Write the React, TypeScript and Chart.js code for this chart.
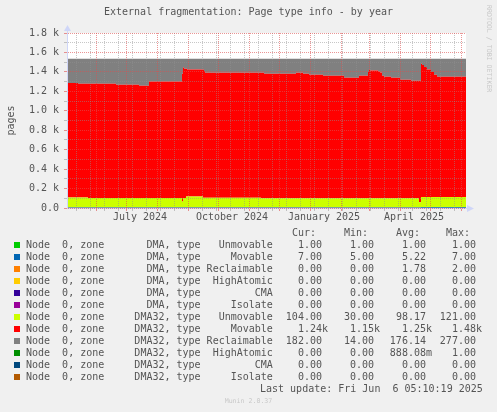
import { useEffect, useRef } from "react";
import { Chart, registerables } from "chart.js";

Chart.register(...registerables);

// x = days since 3 May 2024 (plot runs to 6 Jun 2025)
const days = [0, 11, 21, 49, 72, 82, 115, 116, 117, 119, 120, 136, 137, 138, 194, 197, 229, 236, 242, 256, 277, 292, 301, 302, 303, 311, 313, 315, 317, 324, 333, 344, 352, 354, 355, 357, 360, 364, 367, 370, 387, 399];

const dmaUnmovable = [1, 1, 1, 1, 1, 1, 1, 1, 1, 1, 1, 1, 1, 1, 1, 1, 1, 1, 1, 1, 1, 1, 1, 1, 1, 1, 1, 1, 1, 1, 1, 1, 1, 1, 1, 1, 1, 1, 1, 1, 1, 1];
const dmaMovable = [5, 5, 5, 5, 5, 5, 5, 5, 5, 5, 5, 5, 5, 5, 5, 5, 5, 5, 5, 5, 5, 5, 5, 5, 5, 5, 5, 5, 5, 5, 5, 5, 5, 5, 7, 7, 7, 7, 7, 7, 7, 7];
const dmaReclaimable = [2, 2, 2, 2, 2, 2, 2, 2, 2, 2, 2, 2, 2, 2, 2, 2, 2, 2, 2, 2, 2, 2, 2, 2, 2, 2, 2, 2, 2, 2, 2, 2, 2, 2, 0, 0, 0, 0, 0, 0, 0, 0];
const zeros = [0, 0, 0, 0, 0, 0, 0, 0, 0, 0, 0, 0, 0, 0, 0, 0, 0, 0, 0, 0, 0, 0, 0, 0, 0, 0, 0, 0, 0, 0, 0, 0, 0, 0, 0, 0, 0, 0, 0, 0, 0, 0];
const dma32Unmovable = [84, 101, 101, 95, 95, 95, 95, 60, 95, 95, 110, 110, 98, 98, 98, 92, 92, 92, 92, 92, 92, 92, 92, 92, 92, 92, 92, 92, 92, 92, 92, 92, 92, 50, 104, 104, 104, 104, 104, 104, 104, 104];
const dma32Movable = [1195, 1178, 1168, 1174, 1164, 1154, 1197, 1312, 1342, 1329, 1314, 1306, 1318, 1302, 1284, 1290, 1280, 1290, 1280, 1270, 1260, 1239, 1260, 1300, 1321, 1315, 1305, 1295, 1260, 1249, 1239, 1218, 1208, 1250, 1371, 1358, 1338, 1313, 1288, 1258, 1237, 1237];
const dma32Reclaimable = [247, 247, 257, 257, 267, 277, 234, 154, 89, 102, 102, 110, 110, 126, 144, 144, 154, 144, 154, 164, 174, 195, 174, 134, 113, 119, 129, 139, 174, 185, 195, 216, 226, 226, 52, 65, 85, 110, 135, 165, 186, 186];
const dma32HighAtomic = [1, 1, 1, 1, 1, 1, 1, 1, 1, 1, 1, 1, 1, 1, 1, 1, 1, 1, 1, 1, 1, 1, 1, 1, 1, 1, 1, 1, 1, 1, 1, 1, 1, 1, 0, 0, 0, 0, 0, 0, 0, 0];

const zones = ["DMA", "DMA", "DMA", "DMA", "DMA", "DMA", "DMA32", "DMA32", "DMA32", "DMA32", "DMA32", "DMA32"];
const types = ["Unmovable", "Movable", "Reclaimable", "HighAtomic", "CMA", "Isolate", "Unmovable", "Movable", "Reclaimable", "HighAtomic", "CMA", "Isolate"];
const colors = ["#00CC00", "#0066B3", "#FF8000", "#FFCC00", "#330099", "#990099", "#CCFF00", "#FF0000", "#808080", "#008F00", "#00487D", "#B35A00"];
const series = [dmaUnmovable, dmaMovable, dmaReclaimable, zeros, zeros, zeros, dma32Unmovable, dma32Movable, dma32Reclaimable, dma32HighAtomic, zeros, zeros];

const curValues = ["1.00 ", "7.00 ", "0.00 ", "0.00 ", "0.00 ", "0.00 ", "104.00 ", "1.24k", "182.00 ", "0.00 ", "0.00 ", "0.00 "];
const minValues = ["1.00 ", "5.00 ", "0.00 ", "0.00 ", "0.00 ", "0.00 ", "30.00 ", "1.15k", "14.00 ", "0.00 ", "0.00 ", "0.00 "];
const avgValues = ["1.00 ", "5.22 ", "1.78 ", "0.00 ", "0.00 ", "0.00 ", "98.17 ", "1.25k", "176.14 ", "888.08m", "0.00 ", "0.00 "];
const maxValues = ["1.00 ", "7.00 ", "2.00 ", "0.00 ", "0.00 ", "0.00 ", "121.00 ", "1.48k", "277.00 ", "1.00 ", "0.00 ", "0.00 "];

const monthStarts = [29, 59, 90, 121, 151, 182, 212, 243, 274, 302, 333, 363, 394];
const minorDays = [9, 23, 37, 51, 65, 79, 93, 107, 135, 149, 163, 177, 191, 205, 219, 233, 247, 261, 275, 289, 303, 317, 331, 345, 359, 373, 387];
const labelDays = [73, 165, 257, 347];
const xLabels = ["July 2024", "October 2024", "January 2025", "April 2025"];

const yMajor = [0, 200, 400, 600, 800, 1000, 1200, 1400, 1600, 1800];
const yMinor = [100, 300, 500, 700, 900, 1100, 1300, 1500, 1700];
const yLabels = ["0.0", "0.2 k", "0.4 k", "0.6 k", "0.8 k", "1.0 k", "1.2 k", "1.4 k", "1.6 k", "1.8 k"];

const MONO = "'DejaVu Sans Mono', monospace";
const FONT_COLOR = "#555555";
const AXIS_COLOR = "#CFD6F8";
const MAJOR_GRID = "rgba(222, 79, 79, 0.6)";
const MINOR_GRID = "rgba(143, 143, 143, 0.5)";

const canvasBg = {
  id: "canvasBg",
  beforeDraw(chart: Chart) {
    const { ctx, chartArea } = chart;
    ctx.save();
    ctx.fillStyle = "#FFFFFF";
    ctx.fillRect(chartArea.left, chartArea.top, chartArea.right - chartArea.left, chartArea.bottom - chartArea.top);
    ctx.restore();
  }
};

const axisArrows = {
  id: "axisArrows",
  afterDraw(chart: Chart) {
    const { ctx, chartArea } = chart;
    const l = Math.round(chartArea.left);
    const b = Math.round(chartArea.bottom);
    const t = Math.round(chartArea.top);
    const r = Math.round(chartArea.right);
    ctx.save();
    ctx.fillStyle = AXIS_COLOR;
    ctx.fillRect(l, t - 3, 1, 4);
    ctx.beginPath();
    ctx.moveTo(l - 3, t - 2);
    ctx.lineTo(l + 4, t - 2);
    ctx.lineTo(l + 0.5, t - 8);
    ctx.closePath();
    ctx.fill();
    ctx.fillRect(r - 1, b, 3, 1);
    ctx.beginPath();
    ctx.moveTo(r + 1, b - 3);
    ctx.lineTo(r + 1, b + 4);
    ctx.lineTo(r + 8, b + 0.5);
    ctx.closePath();
    ctx.fill();
    ctx.restore();
  }
};

function xGridColor(v: number) {
  if (monthStarts.includes(v)) return MAJOR_GRID;
  if (minorDays.includes(v)) return MINOR_GRID;
  return "transparent";
}

function yGridColor(v: number) {
  return yMajor.includes(v) ? MAJOR_GRID : MINOR_GRID;
}

function App() {
  const canvasRef = useRef<HTMLCanvasElement | null>(null);

  useEffect(() => {
    document.body.style.margin = "0";
    const canvas = canvasRef.current;
    if (!canvas) {
      return;
    }

    const font = { family: MONO, size: 10 };

    const chart = new Chart(canvas, {
      type: "line",
      data: {
        datasets: series.map((values, i) => ({
          label: `${zones[i]} ${types[i]}`,
          data: days.map((d, j) => ({ x: d, y: values[j] })),
          backgroundColor: colors[i],
          borderWidth: 0,
          pointRadius: 0,
          stepped: "after" as const,
          fill: i === 0 ? "origin" : "-1"
        }))
      },
      options: {
        animation: false,
        responsive: false,
        devicePixelRatio: 1,
        events: [],
        layout: { padding: { top: 33, right: 31, bottom: 184, left: 0 } },
        plugins: {
          legend: { display: false },
          tooltip: { enabled: false }
        },
        scales: {
          x: {
            type: "linear",
            min: 0,
            max: 399,
            afterBuildTicks: (scale) => {
              const vals = [...monthStarts, ...minorDays.filter((d) => !monthStarts.includes(d)), ...labelDays];
              scale.ticks = vals.sort((a, b) => a - b).map((v) => ({ value: v }));
            },
            afterFit: (scale) => {
              scale.height = 20;
            },
            ticks: {
              autoSkip: false,
              maxRotation: 0,
              minRotation: 0,
              padding: 0,
              color: FONT_COLOR,
              font,
              callback: (v) => {
                const idx = labelDays.indexOf(Number(v));
                return idx >= 0 ? xLabels[idx] : "";
              }
            },
            grid: {
              z: 1,
              color: (ctx) => (ctx.tick ? xGridColor(ctx.tick.value) : "transparent"),
              tickColor: (ctx) => (ctx.tick ? xGridColor(ctx.tick.value) : "transparent"),
              tickLength: 3
            },
            border: { z: 1, color: AXIS_COLOR, dash: [1, 1] }
          },
          y: {
            type: "linear",
            stacked: true,
            min: 0,
            max: 1800,
            afterBuildTicks: (scale) => {
              scale.ticks = [...yMajor, ...yMinor].sort((a, b) => a - b).map((v) => ({ value: v }));
            },
            afterFit: (scale) => {
              scale.width = 67;
            },
            ticks: {
              autoSkip: false,
              padding: 5,
              color: FONT_COLOR,
              font,
              callback: (v) => {
                const idx = yMajor.indexOf(Number(v));
                return idx >= 0 ? yLabels[idx] : "";
              }
            },
            grid: {
              z: 1,
              color: (ctx) => (ctx.tick ? yGridColor(ctx.tick.value) : "transparent"),
              tickColor: (ctx) => (ctx.tick ? yGridColor(ctx.tick.value) : "transparent"),
              tickLength: 3
            },
            border: { z: 1, color: AXIS_COLOR, dash: [1, 1] },
            title: {
              display: true,
              text: "pages",
              color: FONT_COLOR,
              font,
              padding: { top: 5, bottom: 0 }
            }
          }
        }
      },
      plugins: [canvasBg, axisArrows]
    });

    return () => {
      chart.destroy();
    };
  }, []);

  const rowTop = (center: number) => center - 6;

  return (
    <div
      style={{
        position: "relative",
        width: 497,
        height: 412,
        overflow: "hidden",
        background: "#F0F0F0",
        fontFamily: MONO,
        fontSize: 10,
        lineHeight: "12px",
        color: FONT_COLOR,
        whiteSpace: "pre"
      }}
    >
      <canvas ref={canvasRef} width={497} height={412} style={{ position: "absolute", left: 0, top: 0, width: 497, height: 412 }} />
      <div style={{ position: "absolute", top: 6, left: 0, width: 497, textAlign: "center" }}>
        External fragmentation: Page type info - by year
      </div>
      <div
        style={{
          position: "absolute",
          left: 485,
          top: 5,
          writingMode: "vertical-rl",
          fontSize: 6.6,
          lineHeight: "8px",
          color: "#C8C8C8"
        }}
      >
        RRDTOOL / TOBI OETIKER
      </div>

      <div style={{ position: "absolute", top: rowTop(233), left: 292 }}>Cur:</div>
      <div style={{ position: "absolute", top: rowTop(233), left: 344 }}>Min:</div>
      <div style={{ position: "absolute", top: rowTop(233), left: 396 }}>Avg:</div>
      <div style={{ position: "absolute", top: rowTop(233), left: 446 }}>Max:</div>

      {types.map((type, i) => {
        const center = 245 + 12 * i;
        return (
          <div key={i}>
            <div
              style={{
                position: "absolute",
                left: 14,
                top: center - 3,
                width: 6,
                height: 6,
                background: colors[i]
              }}
            />
            <div style={{ position: "absolute", left: 26, top: rowTop(center) }}>
              {"Node  0, zone " + zones[i].padStart(9) + ", type " + type.padStart(11)}
            </div>
            <div style={{ position: "absolute", right: 169, top: rowTop(center) }}>{curValues[i]}</div>
            <div style={{ position: "absolute", right: 117, top: rowTop(center) }}>{minValues[i]}</div>
            <div style={{ position: "absolute", right: 65, top: rowTop(center) }}>{avgValues[i]}</div>
            <div style={{ position: "absolute", right: 15, top: rowTop(center) }}>{maxValues[i]}</div>
          </div>
        );
      })}

      <div style={{ position: "absolute", left: 260, top: rowTop(389) }}>Last update: Fri Jun  6 05:10:19 2025</div>
      <div
        style={{
          position: "absolute",
          left: 0,
          width: 497,
          top: 397,
          textAlign: "center",
          fontSize: 6.6,
          lineHeight: "9px",
          color: "#C8C8C8"
        }}
      >
        Munin 2.0.37
      </div>
    </div>
  );
}

export default App;
